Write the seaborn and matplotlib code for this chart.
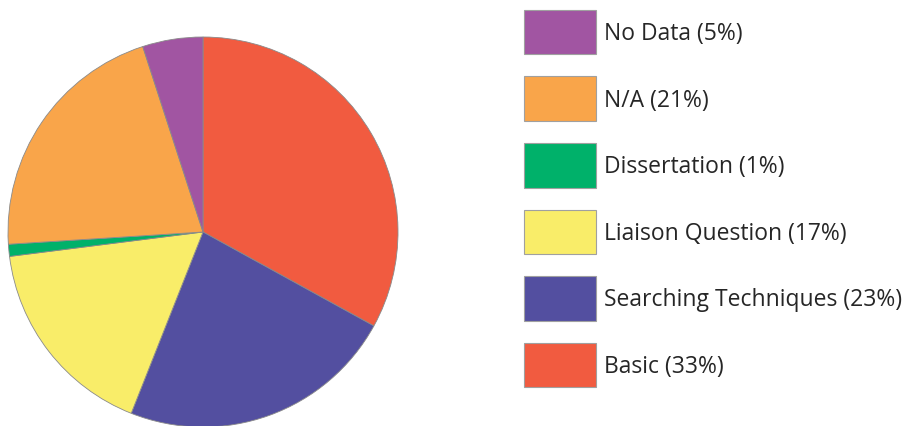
import matplotlib
matplotlib.use("Agg")
import matplotlib.pyplot as plt
import seaborn as sns

categories = ["Basic", "Searching Techniques", "Liaison Question", "Dissertation", "N/A", "No Data"]
shares = [33, 23, 17, 1, 21, 5]
colors = ["#F15B40", "#534FA0", "#F9ED69", "#00B16A", "#F9A54A", "#A155A2"]

sns.set_theme(style="white")
plt.rcParams["font.family"] = ["Open Sans", "DejaVu Sans"]

fig = plt.figure(figsize=(9.12, 4.27), dpi=100)
ax = fig.add_axes([8 / 912, (427 - 233 - 195) / 427, 390 / 912, 390 / 427])

wedges, _ = ax.pie(
    shares,
    colors=colors,
    startangle=90,
    counterclock=False,
    radius=1,
    wedgeprops=dict(edgecolor="#8a8a8a", linewidth=0.6),
)
ax.set_xlim(-1, 1)
ax.set_ylim(-1, 1)
ax.set_aspect("equal")
ax.axis("off")

labels = [f"{c} ({s}%)" for c, s in zip(categories, shares)]
handles = []
for c in colors:
    h = plt.Rectangle((0, 0), 1, 1, facecolor=c, edgecolor="#a0a0a0", linewidth=0.8)
    handles.append(h)

fs = 16.5
px = fs * 100 / 72  # font size in pixels
# legend patch height = px*(0.65*hh + 0.245)
hh = (44.6 / px - 0.245) / 0.65
fig.legend(
    handles[::-1],
    labels[::-1],
    loc="upper left",
    bbox_to_anchor=(524 / 912, 1 - 10.7 / 427),
    frameon=False,
    fontsize=fs,
    handlelength=72 / px,
    handleheight=hh,
    labelspacing=22 / px,
    handletextpad=8 / px,
    borderpad=0,
    borderaxespad=0,
)

fig.savefig("out.png", dpi=100)
